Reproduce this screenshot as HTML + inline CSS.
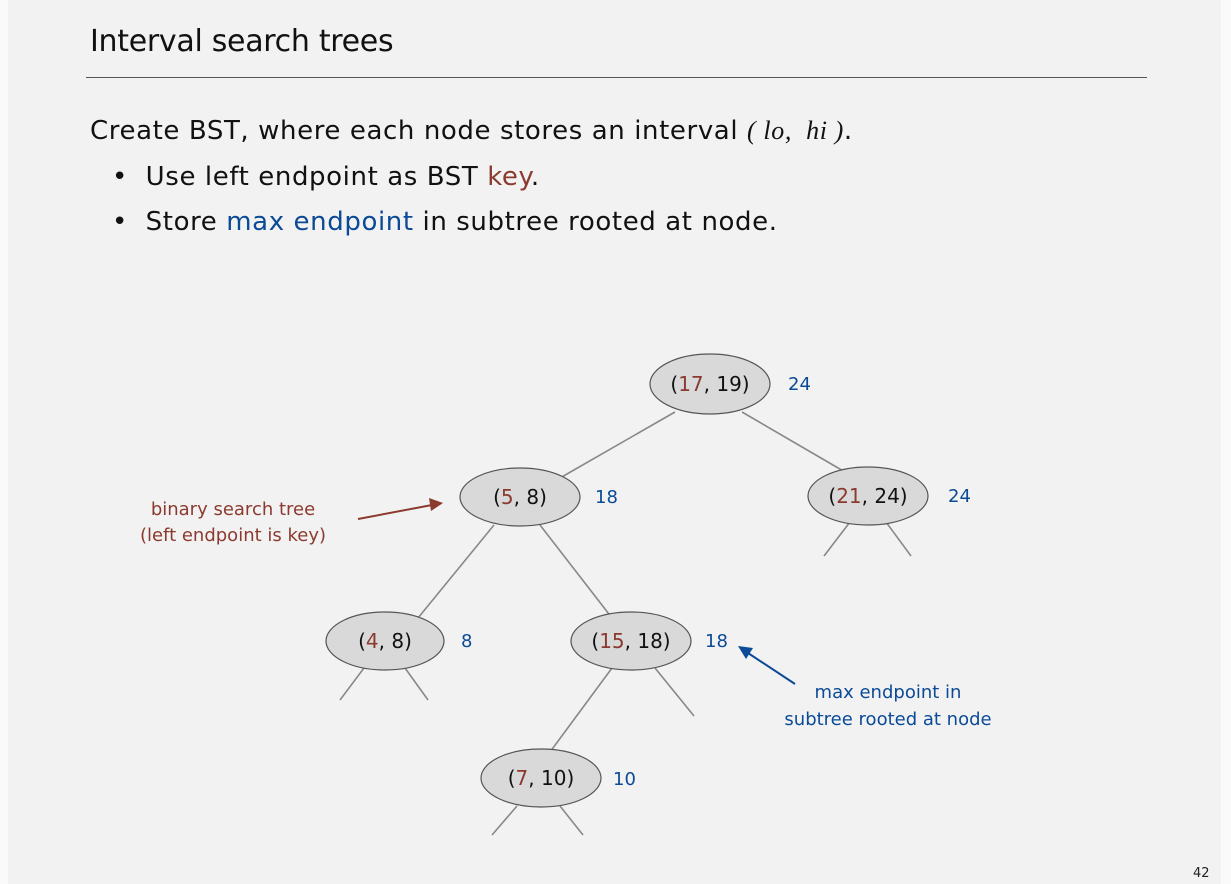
<!DOCTYPE html>
<html><head><meta charset="utf-8"><style>
html,body{margin:0;padding:0}
body{width:1231px;height:884px;background:#fafafa;position:relative;overflow:hidden;font-family:"DejaVu Sans","Liberation Sans",sans-serif}
#bg{position:absolute;left:8px;top:0;width:1213px;height:884px;background:#f2f2f2}
.t{position:absolute;white-space:nowrap;color:#111}
.r{color:#8b3a2f}.b{color:#0b4a96}
</style></head><body>
<div id="bg"></div>
<div class="t" style="left:90px;top:24px;font-size:30px;letter-spacing:-0.3px">Interval search trees</div>
<div style="position:absolute;left:86px;top:77px;width:1061px;height:1px;background:#555"></div>
<div class="t" style="left:90px;top:116px;font-size:26px;letter-spacing:0.6px">Create BST, where each node stores an interval <span style="font-family:'Liberation Serif',serif;font-style:italic">( lo,&nbsp; hi )</span>.</div>
<div class="t" style="left:112px;top:162px;font-size:26px;letter-spacing:0.6px">•&nbsp; Use left endpoint as BST <span class="r">key</span>.</div>
<div class="t" style="left:112px;top:207px;font-size:26px;letter-spacing:0.6px">•&nbsp; Store <span class="b">max endpoint</span> in subtree rooted at node.</div>
<svg width="1231" height="884" style="position:absolute;left:0;top:0" font-family="DejaVu Sans, Liberation Sans, sans-serif">
<g stroke="#888" stroke-width="1.6" fill="none">
<line x1="675" y1="412" x2="560" y2="478"/>
<line x1="742" y1="412" x2="845" y2="472"/>
<line x1="494" y1="525" x2="418" y2="618"/>
<line x1="540" y1="525" x2="612" y2="618"/>
<line x1="850" y1="522" x2="824" y2="556"/>
<line x1="886" y1="522" x2="911" y2="556"/>
<line x1="364" y1="668" x2="340" y2="700"/>
<line x1="405" y1="668" x2="428" y2="700"/>
<line x1="612" y1="668" x2="550" y2="752"/>
<line x1="655" y1="668" x2="694" y2="716"/>
<line x1="517" y1="806" x2="492" y2="835"/>
<line x1="560" y1="806" x2="583" y2="835"/>
</g>
<g fill="#d9d9d9" stroke="#555" stroke-width="1.2">
<ellipse cx="710" cy="384" rx="60" ry="30"/>
<ellipse cx="520" cy="497" rx="60" ry="29"/>
<ellipse cx="868" cy="496" rx="60" ry="29"/>
<ellipse cx="385" cy="641" rx="59" ry="29"/>
<ellipse cx="631" cy="641" rx="60" ry="29"/>
<ellipse cx="541" cy="778" rx="60" ry="29"/>
</g>
<g font-size="20" fill="#111" text-anchor="middle">
<text x="710" y="391">(<tspan fill="#8b3a2f">17</tspan>, 19)</text>
<text x="520" y="504">(<tspan fill="#8b3a2f">5</tspan>, 8)</text>
<text x="868" y="503">(<tspan fill="#8b3a2f">21</tspan>, 24)</text>
<text x="385" y="648">(<tspan fill="#8b3a2f">4</tspan>, 8)</text>
<text x="631" y="648">(<tspan fill="#8b3a2f">15</tspan>, 18)</text>
<text x="541" y="785">(<tspan fill="#8b3a2f">7</tspan>, 10)</text>
</g>
<g font-size="18" fill="#0b4a96">
<text x="788" y="390">24</text>
<text x="595" y="503">18</text>
<text x="948" y="502">24</text>
<text x="461" y="647">8</text>
<text x="705" y="647">18</text>
<text x="613" y="785">10</text>
</g>
<g font-size="18" fill="#8b3a2f" text-anchor="middle">
<text x="233" y="515">binary search tree</text>
<text x="233" y="541">(left endpoint is key)</text>
</g>
<line x1="358" y1="519" x2="432" y2="505" stroke="#8b3a2f" stroke-width="2"/>
<polygon points="443,503 429,498 431,511" fill="#8b3a2f"/>
<g font-size="18" fill="#0b4a96" text-anchor="middle">
<text x="888" y="698">max endpoint in</text>
<text x="888" y="725">subtree rooted at node</text>
</g>
<line x1="795" y1="684" x2="748" y2="653" stroke="#0b4a96" stroke-width="2"/>
<polygon points="738,646 746,659 753,648" fill="#0b4a96"/>
<text x="1193" y="877" font-size="13" fill="#222">42</text>
</svg>
</body></html>
